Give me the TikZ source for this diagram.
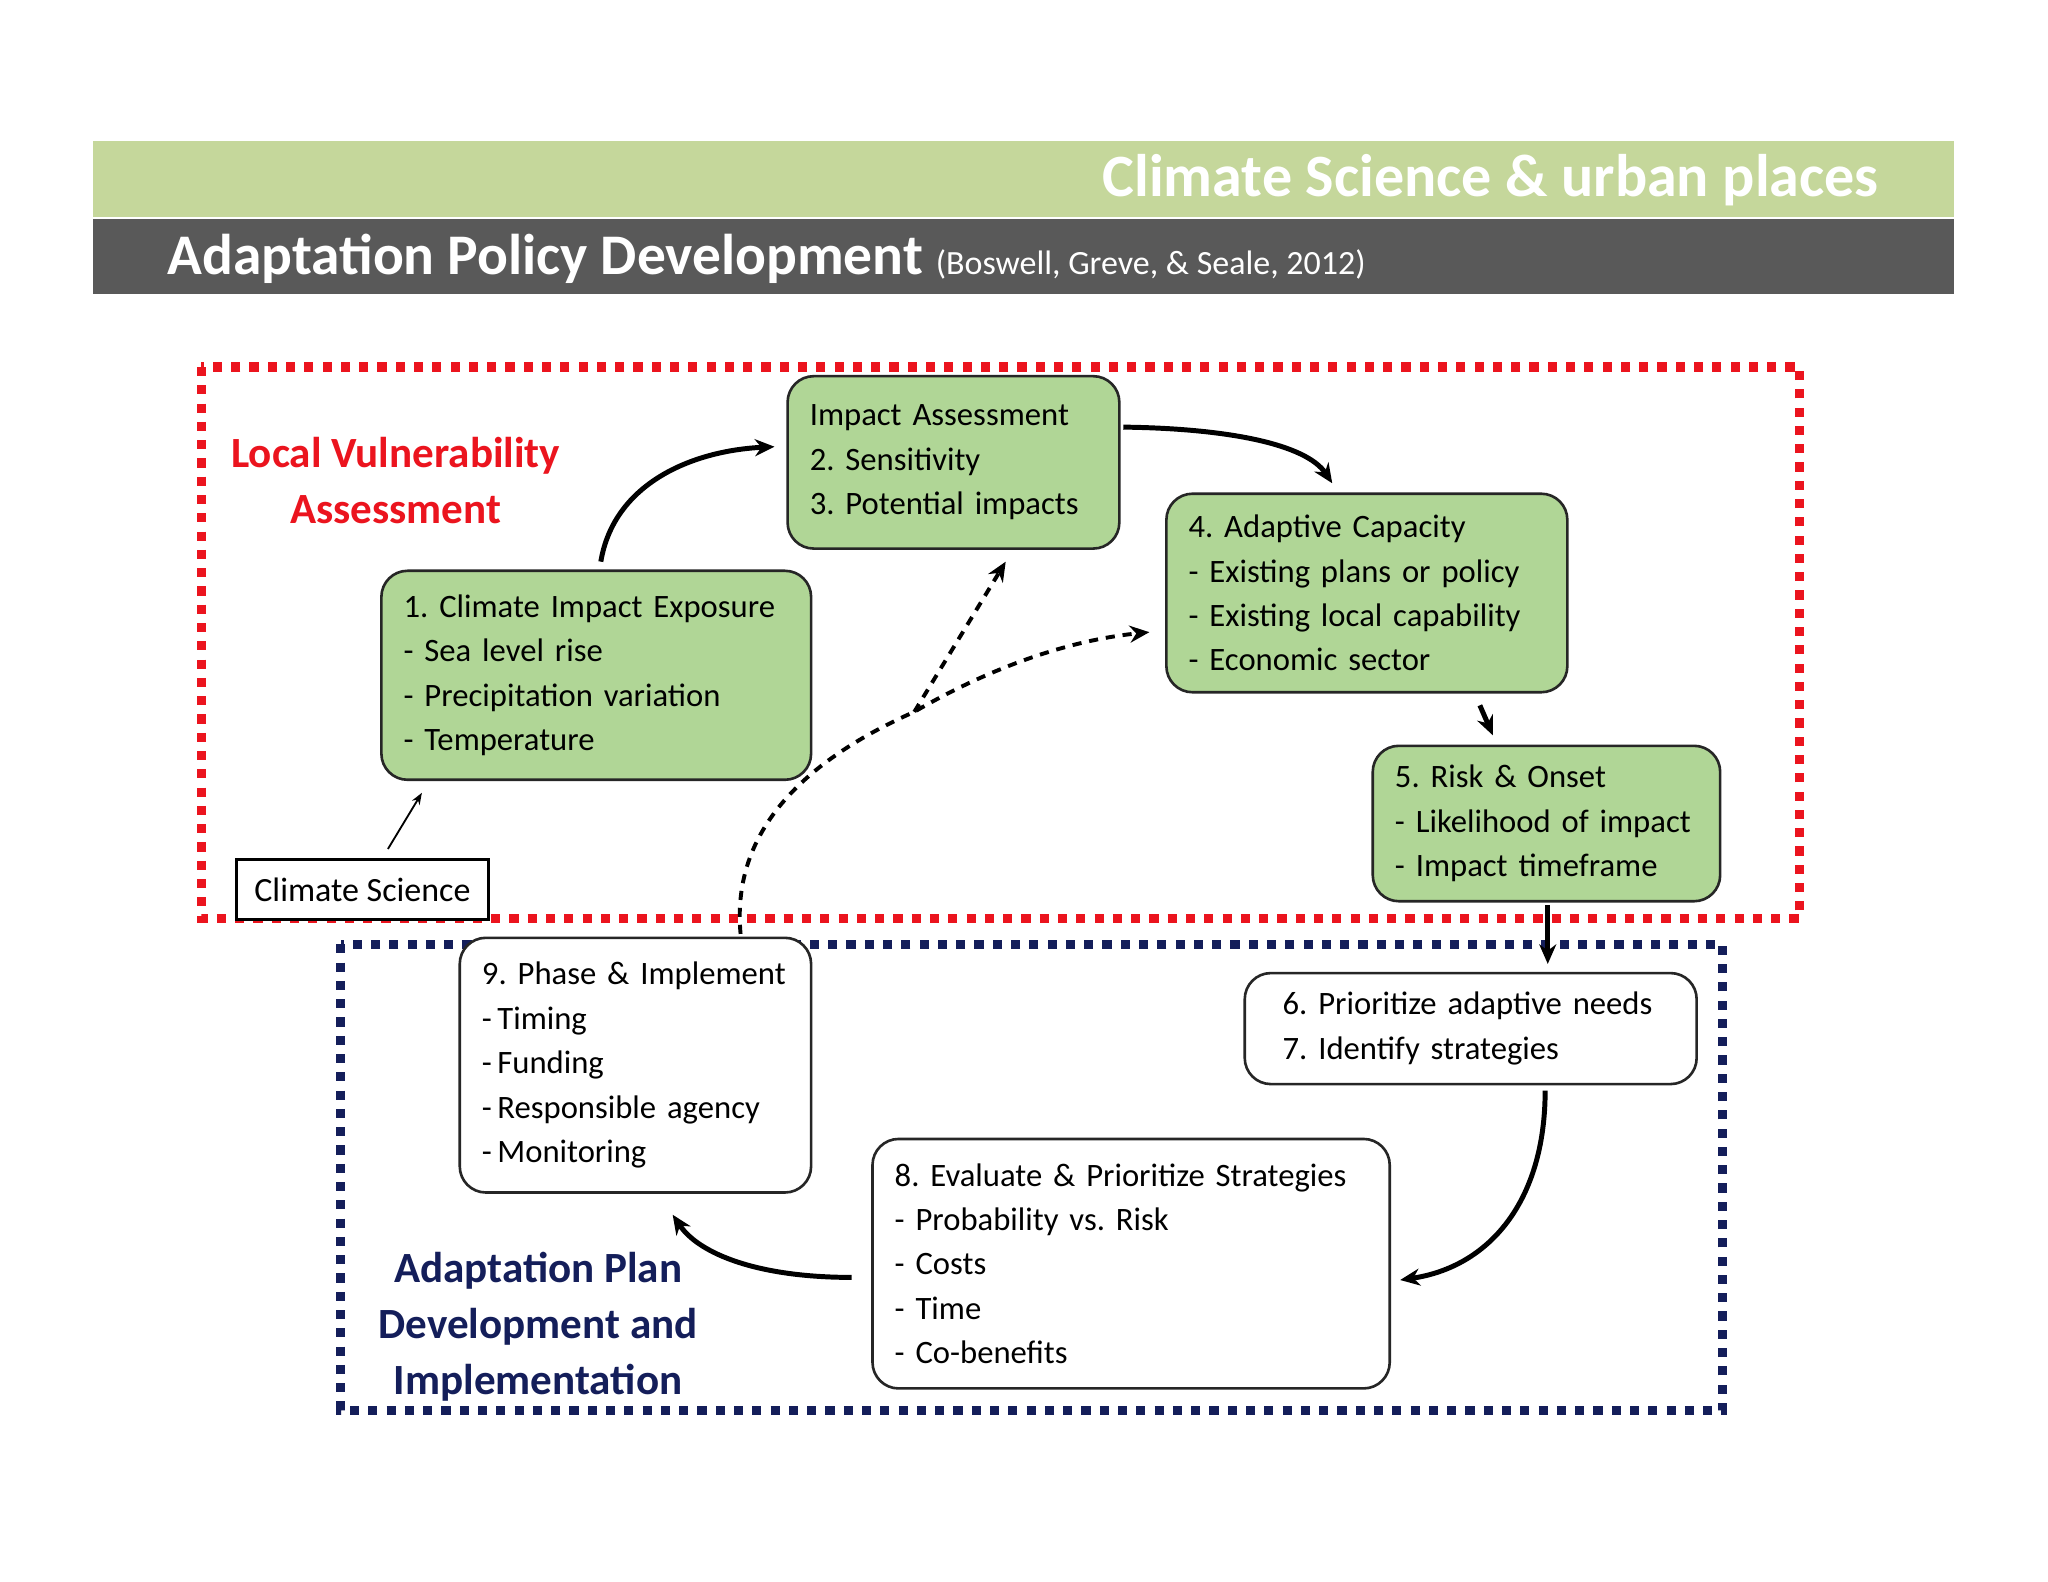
\documentclass[tikz,border=0pt]{standalone}
\usepackage{fontspec}
\setmainfont{Carlito}
\usetikzlibrary{arrows.meta}
\definecolor{band}{RGB}{197,215,155}
\definecolor{darkband}{RGB}{89,89,89}
\definecolor{boxgreen}{RGB}{176,214,150}
\definecolor{navy}{RGB}{20,30,90}
\definecolor{redd}{RGB}{235,20,30}
\newcommand{\nohyph}{\hyphenpenalty10000\relax\frenchspacing}
\tikzset{
 bx/.style={draw=black!85,line width=2pt,rounded corners=20pt,align=left,inner sep=0pt,font=\fontsize{25}{34}\selectfont\nohyph},
 gbx/.style={bx,fill=boxgreen},
 wbx/.style={bx,fill=white},
 arr/.style={-{Stealth[length=15pt,width=13pt]},line width=3.8pt},
 darr/.style={arr,dash pattern=on 7pt off 6pt,line width=3pt},
 region/.style={line width=7pt,dash pattern=on 7pt off 7pt}
}
\newcommand{\mybox}[7]{% name style x1 y1 x2 y2 text
 \node[#2,minimum width={#5-#3},minimum height={#6-#4},text width={#5-#3-34}] (#1) at ({(#3+#5)/2},{(#4+#6)/2}) {#7};}
\begin{document}
\begin{tikzpicture}[x=1pt,y=-1pt]
\useasboundingbox[fill=white] (0,0) rectangle (1568,1211);
\fill[band] (71,108) rectangle (1496,166);
\fill[darkband] (71,168) rectangle (1496,225);
\node[anchor=east,text=white,font=\fontsize{46}{50}\selectfont\bfseries] (t1) at (1442,138) {Climate Science \& urban places};
\node[anchor=west,text=white,font=\fontsize{44}{48}\selectfont\bfseries,inner sep=0pt] (t2) at (128,198) {Adaptation Policy Development \fontsize{26}{30}\selectfont\mdseries(Boswell, Greve, \& Seale, 2012)};
\draw[region,redd] (154,281) rectangle (1378,703);
\draw[region,navy] (261,723) rectangle (1319,1080);
\node[text=redd,font=\fontsize{33}{43}\selectfont\bfseries,align=center] (lva) at (303,368) {Local Vulnerability\\Assessment};
\node[text=navy,font=\fontsize{33}{43}\selectfont\bfseries,align=center] (apd) at (412,1016) {Adaptation Plan\\Development and\\Implementation};
\mybox{ia}{gbx}{603}{288}{857}{420}{Impact Assessment\\2. Sensitivity\\3. Potential impacts}
\mybox{b1}{gbx}{292}{437}{621}{597}{1. Climate Impact Exposure\\- Sea level rise\\- Precipitation variation\\- Temperature}
\mybox{b4}{gbx}{893}{378}{1200}{530}{4. Adaptive Capacity\\- Existing plans or policy\\- Existing local capability\\- Economic sector}
\mybox{b5}{gbx}{1051}{571}{1317}{690}{5. Risk \& Onset\\- Likelihood of impact\\- Impact timeframe}
\node[draw=black,line width=2pt,fill=white,minimum width=193pt,minimum height=46pt,inner sep=0pt,font=\fontsize{26}{30}\selectfont] (cs) at (277.5,681) {Climate Science};
\mybox{b9}{wbx}{352}{718}{621}{913}{9. Phase \& Implement\\-\,Timing\\-\,Funding\\-\,Responsible agency\\-\,Monitoring}
\mybox{b6}{wbx}{953}{745}{1299}{830}{\hspace*{12pt}6. Prioritize adaptive needs\\\hspace*{12pt}7. Identify strategies}
\mybox{b8}{wbx}{668}{872}{1064}{1063}{8. Evaluate \& Prioritize Strategies\\- Probability vs. Risk\\- Costs\\- Time\\- Co-benefits}
\draw[arr] (460,430) .. controls (470,370) and (530,345) .. (593,342);
\draw[arr] (860,327) .. controls (940,328) and (1000,340) .. (1020,370);
\draw[arr] (1133,540) -- (1143,563);
\draw[arr] (1185,693) -- (1185,738);
\draw[arr] (1183,835) .. controls (1183,920) and (1140,970) .. (1072,980);
\draw[arr] (652,978) .. controls (580,978) and (535,960) .. (515,930);
\draw[-{Stealth[length=9pt]},line width=1.4pt] (297,650) -- (323,607);
\coordinate (s9) at (567,715);
\coordinate (j) at (700,545);
\draw[darr] (s9) .. controls (560,640) and (610,585) .. (j) .. controls (760,510) and (820,490) .. (880,484);
\draw[darr] (j) -- (770,430);
\end{tikzpicture}
\end{document}
